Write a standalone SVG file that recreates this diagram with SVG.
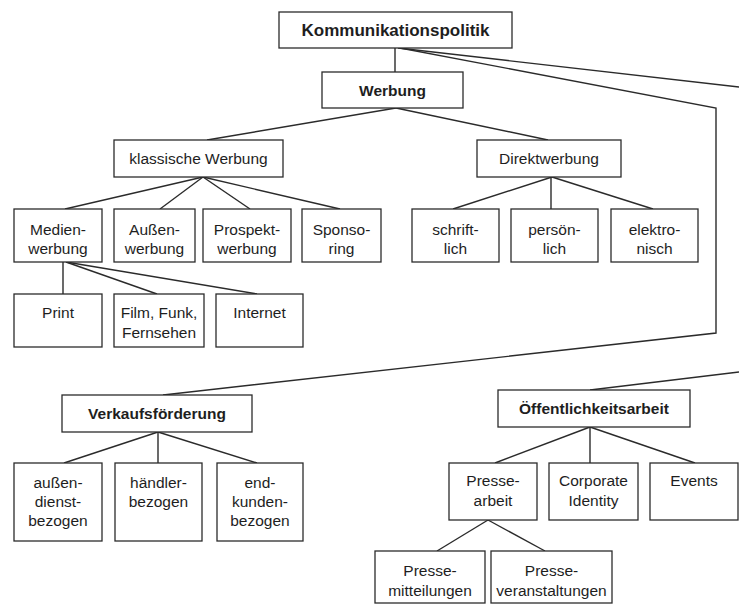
<svg xmlns="http://www.w3.org/2000/svg" width="739" height="605" viewBox="0 0 739 605">
  <style>
    .box { fill: #ffffff; stroke: #2b2b2b; stroke-width: 1.3; }
    .t { font-family: "Liberation Sans", Arial, sans-serif; font-size: 15.5px; fill: #1e1e1e; text-anchor: middle; }
    .b { font-weight: bold; }
    .conn { fill: none; stroke: #2b2b2b; stroke-width: 1.4; stroke-linejoin: miter; }
  </style>
  <rect width="739" height="605" fill="#ffffff"/>

  <g id="connectors" class="conn">
    <path d="M395,48 V72"/>
    <path d="M398,48 L739,87"/>
    <path d="M400,48 L716,108 L716,333 L163,395"/>
    <path d="M396,108 L207,140"/>
    <path d="M396,108 L548,140"/>
    <path d="M203,177 L65,209"/>
    <path d="M203,177 L160,209"/>
    <path d="M203,177 L250,209"/>
    <path d="M203,177 L340,209"/>
    <path d="M552,177 L453,209"/>
    <path d="M551,177 L551,209"/>
    <path d="M552,177 L653,209"/>
    <path d="M63,262 L63,294"/>
    <path d="M66,262 L157,294"/>
    <path d="M66,262 L257,294"/>
    <path d="M158,432 L64,463"/>
    <path d="M158,432 L158,463"/>
    <path d="M158,432 L257,463"/>
    <path d="M739,372 L590,390"/>
    <path d="M590,427 L495,463"/>
    <path d="M590,427 L590,463"/>
    <path d="M590,427 L695,463"/>
    <path d="M488,520 L437,551"/>
    <path d="M488,520 L545,551"/>
  </g>

  <g id="kommunikationspolitik">
    <rect class="box" x="279" y="12" width="233" height="36"/>
    <text class="t b" x="395.5" y="36" style="font-size:17px">Kommunikationspolitik</text>
  </g>
  <g id="werbung">
    <rect class="box" x="322" y="72" width="141" height="36"/>
    <text class="t b" x="392.5" y="95.5">Werbung</text>
  </g>
  <g id="klassische-werbung">
    <rect class="box" x="114" y="140" width="169" height="37"/>
    <text class="t" x="198.5" y="164">klassische Werbung</text>
  </g>
  <g id="direktwerbung">
    <rect class="box" x="477" y="140" width="144" height="37"/>
    <text class="t" x="549" y="164">Direktwerbung</text>
  </g>

  <g id="medienwerbung">
    <rect class="box" x="14" y="209" width="88" height="53"/>
    <text class="t" x="58" y="234.5">Medien-</text>
    <text class="t" x="58" y="254">werbung</text>
  </g>
  <g id="aussenwerbung">
    <rect class="box" x="114" y="209" width="81" height="53"/>
    <text class="t" x="154.5" y="234.5">Außen-</text>
    <text class="t" x="154.5" y="254">werbung</text>
  </g>
  <g id="prospektwerbung">
    <rect class="box" x="203" y="209" width="88" height="53"/>
    <text class="t" x="247" y="234.5">Prospekt-</text>
    <text class="t" x="247" y="254">werbung</text>
  </g>
  <g id="sponsoring">
    <rect class="box" x="302" y="209" width="79" height="53"/>
    <text class="t" x="341.5" y="234.5">Sponso-</text>
    <text class="t" x="341.5" y="254">ring</text>
  </g>
  <g id="schriftlich">
    <rect class="box" x="412" y="209" width="87" height="53"/>
    <text class="t" x="455.5" y="234.5">schrift-</text>
    <text class="t" x="455.5" y="254">lich</text>
  </g>
  <g id="persoenlich">
    <rect class="box" x="511" y="209" width="87" height="53"/>
    <text class="t" x="554.5" y="234.5">persön-</text>
    <text class="t" x="554.5" y="254">lich</text>
  </g>
  <g id="elektronisch">
    <rect class="box" x="611" y="209" width="87" height="53"/>
    <text class="t" x="654.5" y="234.5">elektro-</text>
    <text class="t" x="654.5" y="254">nisch</text>
  </g>

  <g id="print">
    <rect class="box" x="14" y="294" width="88" height="53"/>
    <text class="t" x="58" y="317.5">Print</text>
  </g>
  <g id="film-funk-fernsehen">
    <rect class="box" x="114" y="294" width="90" height="53"/>
    <text class="t" x="159" y="317.5">Film, Funk,</text>
    <text class="t" x="159" y="337.5">Fernsehen</text>
  </g>
  <g id="internet">
    <rect class="box" x="216" y="294" width="87" height="53"/>
    <text class="t" x="259.5" y="317.5">Internet</text>
  </g>

  <g id="verkaufsfoerderung">
    <rect class="box" x="62" y="395" width="190" height="37"/>
    <text class="t b" x="157" y="419">Verkaufsförderung</text>
  </g>
  <g id="aussendienstbezogen">
    <rect class="box" x="14" y="463" width="88" height="78"/>
    <text class="t" x="58" y="487.5">außen-</text>
    <text class="t" x="58" y="507">dienst-</text>
    <text class="t" x="58" y="526">bezogen</text>
  </g>
  <g id="haendlerbezogen">
    <rect class="box" x="115" y="463" width="87" height="78"/>
    <text class="t" x="158.5" y="487.5">händler-</text>
    <text class="t" x="158.5" y="507">bezogen</text>
  </g>
  <g id="endkundenbezogen">
    <rect class="box" x="217" y="463" width="86" height="78"/>
    <text class="t" x="260" y="487.5">end-</text>
    <text class="t" x="260" y="507">kunden-</text>
    <text class="t" x="260" y="526">bezogen</text>
  </g>

  <g id="oeffentlichkeitsarbeit">
    <rect class="box" x="498" y="390" width="192" height="37"/>
    <text class="t b" x="594" y="414">Öffentlichkeitsarbeit</text>
  </g>
  <g id="pressearbeit">
    <rect class="box" x="449" y="463" width="88" height="57"/>
    <text class="t" x="493" y="485.5">Presse-</text>
    <text class="t" x="493" y="506">arbeit</text>
  </g>
  <g id="corporate-identity">
    <rect class="box" x="549" y="463" width="89" height="57"/>
    <text class="t" x="593.5" y="485.5">Corporate</text>
    <text class="t" x="593.5" y="506">Identity</text>
  </g>
  <g id="events">
    <rect class="box" x="650" y="463" width="88" height="57"/>
    <text class="t" x="694" y="485.5">Events</text>
  </g>
  <g id="pressemitteilungen">
    <rect class="box" x="375" y="551" width="110" height="52"/>
    <text class="t" x="430" y="575.5">Presse-</text>
    <text class="t" x="430" y="595.5">mitteilungen</text>
  </g>
  <g id="presseveranstaltungen">
    <rect class="box" x="491" y="551" width="121" height="52"/>
    <text class="t" x="551.5" y="575.5">Presse-</text>
    <text class="t" x="551.5" y="595.5">veranstaltungen</text>
  </g>
</svg>
